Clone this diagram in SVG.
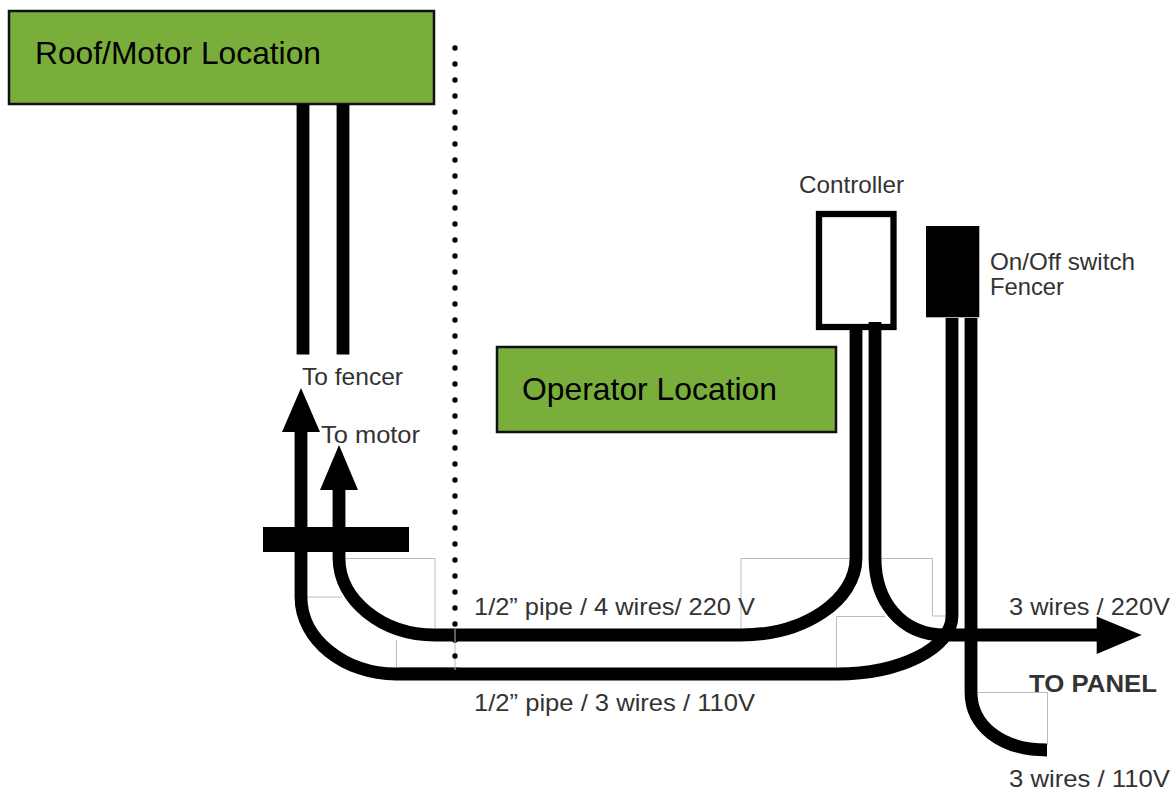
<svg xmlns="http://www.w3.org/2000/svg" width="1176" height="788" viewBox="0 0 1176 788">
<style>
.box{fill:#7aae3b;stroke:#111;stroke-width:2.500}
.big{font:32px "Liberation Sans",Arial,sans-serif;fill:#000}
.lab{font:24px "Liberation Sans",Arial,sans-serif;fill:#333}
.wire{fill:none;stroke:#000;stroke-width:12.800}
.guide{fill:none;stroke:#bbb;stroke-width:1}
</style>
<rect width="1176" height="788" fill="#fff"/>
<g id="guides">
<path class="guide" d="M345 558.500H435V628M307 597H342M396.500 640V667M396.500 667.500H460M455 628V668M741 628V558.500H850M881 558.500H932.500V616H946M836.500 667V616.500H885M977 692.500H1047.500V745"/>
</g>
<g id="roof"><rect class="box" x="9" y="11" width="425" height="93"/><text class="big" x="35" y="64" textLength="286" lengthAdjust="spacingAndGlyphs">Roof/Motor Location</text></g>
<g id="operator"><rect class="box" x="497" y="347" width="339" height="85"/><text class="big" x="522" y="400" textLength="255" lengthAdjust="spacingAndGlyphs">Operator Location</text></g>
<g id="bar"><rect x="263" y="527" width="146" height="25" fill="#000"/></g>
<g id="controller"><rect x="819" y="214" width="74.500" height="113" fill="#fff" stroke="#000" stroke-width="6.300"/><text class="lab" x="799" y="193" textLength="105" lengthAdjust="spacingAndGlyphs">Controller</text></g>
<g id="switch"><rect x="926" y="226" width="53.300" height="91.300" fill="#000"/><text class="lab" x="990" y="270" textLength="145" lengthAdjust="spacingAndGlyphs">On/Off switch</text><text class="lab" x="990" y="295" textLength="74" lengthAdjust="spacingAndGlyphs">Fencer</text></g>
<g id="connectors">
<path class="wire" d="M303 104V354.500M343 104V354.500"/>
<path class="wire" d="M339 480V558C339 600 382 635 435 635H741C805 635 856 600 856 558V325"/>
<path class="wire" d="M301 420V597C301 640 345 674 396 674H837C900 674 952 648 952 616V318"/>
<path class="wire" d="M875 322V558C875 600 900 635 945 635H1100"/>
<path class="wire" d="M971 318V692C971 725 1000 750 1047 750"/>
<path d="M301 388L320 432H282ZM339 445L358 490H320ZM1141.700 635L1096.700 654V616.500Z" fill="#000"/>
<path d="M455 48V660" fill="none" stroke="#000" stroke-width="5.400" stroke-linecap="round" stroke-dasharray="0 16"/>
<path d="M455 629V642M455 667V670" fill="none" stroke="#bbb" stroke-width="1"/>
</g>
<g id="labels">
<text class="lab" x="302" y="385" textLength="101" lengthAdjust="spacingAndGlyphs">To fencer</text>
<text class="lab" x="321" y="443" textLength="99" lengthAdjust="spacingAndGlyphs">To motor</text>
<text class="lab" x="474" y="615" textLength="281" lengthAdjust="spacingAndGlyphs">1/2” pipe / 4 wires/ 220 V</text>
<text class="lab" x="474" y="711" textLength="281" lengthAdjust="spacingAndGlyphs">1/2” pipe / 3 wires / 110V</text>
<text class="lab" x="1009" y="615" textLength="161" lengthAdjust="spacingAndGlyphs">3 wires / 220V</text>
<text class="lab" x="1029" y="692" style="font-weight:bold" textLength="128" lengthAdjust="spacingAndGlyphs">TO PANEL</text>
<text class="lab" x="1009" y="787" textLength="161" lengthAdjust="spacingAndGlyphs">3 wires / 110V</text>
</g>
</svg>
